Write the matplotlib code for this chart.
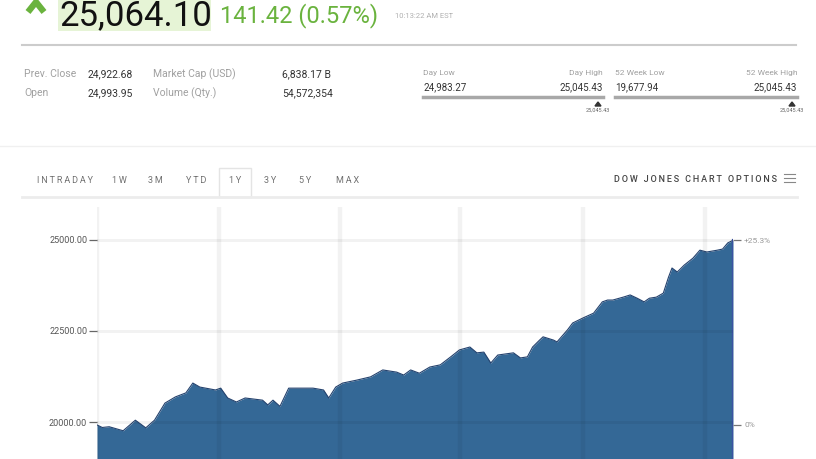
import matplotlib.pyplot as plt
import numpy as np

W, H = 816, 459

# quote header
last_price = "25,064.10"
change_text = "141.42 (0.57%)"
time_text = "10:13:22 AM EST"

stats_left = [("Prev. Close", "24,922.68"), ("Open", "24,993.95")]
stats_mid = [("Market Cap (USD)", "6,838.17 B"), ("Volume (Qty.)", "54,572,354")]
ranges = [("Day Low", "24,983.27", "Day High", "25,045.43", "25,045.43"),
          ("52 Week Low", "19,677.94", "52 Week High", "25,045.43", "25,045.43")]

tabs = ["INTRADAY", "1W", "3M", "YTD", "1Y", "3Y", "5Y", "MAX"]
active_tab = "1Y"

# one year of closes (day of period, index level)
days = [0, 3, 7, 15, 22, 28, 33, 39, 45, 51, 55, 59, 68, 71, 75, 80, 85, 95, 98,
        101, 105, 110, 124, 130, 133, 137, 141, 149, 157, 164, 172, 176, 180, 185,
        191, 197, 203, 208, 214, 218, 222, 226, 230, 239, 243, 247, 250, 254, 256,
        262, 264, 270, 273, 279, 285, 290, 293, 296, 302, 306, 310, 314, 317, 321,
        325, 328, 330, 333, 337, 342, 346, 350, 356, 359, 362, 365]
closes = [19920, 19850, 19870, 19760, 20050, 19840, 20050, 20520, 20690, 20800,
          21070, 20960, 20880, 20930, 20660, 20550, 20660, 20600, 20470, 20600,
          20430, 20930, 20930, 20880, 20660, 20960, 21070, 21150, 21240, 21430,
          21370, 21290, 21430, 21340, 21510, 21570, 21790, 21980, 22060, 21900,
          21920, 21620, 21840, 21900, 21760, 21790, 22060, 22250, 22340, 22250,
          22200, 22530, 22720, 22860, 22990, 23300, 23350, 23350, 23430, 23490,
          23400, 23300, 23400, 23430, 23540, 23980, 24230, 24120, 24310, 24500,
          24720, 24670, 24720, 24750, 24920, 24990]

y_ticks = [20000, 22500, 25000]
x_grid_days = [70, 139.5, 208.4, 279, 349]
pct_labels = ["0%", "+25.3%"]

GREEN = "#6ab33e"
BLUE = "#346896"
GRAY = "#a0a0a0"
DARK = "#333333"


def px(x, y):
    return x / W, 1 - y / H


def ftext(x, y, s, **kw):
    kw.setdefault("family", ["Roboto", "DejaVu Sans"])
    fig.text(*px(x, y), s, **kw)


def spaced(s):
    return "\u2009".join(s)


def hline(x0, x1, y, color, lw):
    fig.add_artist(plt.Line2D([x0 / W, x1 / W], [1 - y / H, 1 - y / H],
                              color=color, lw=lw, transform=fig.transFigure))


fig = plt.figure(figsize=(W / 100, H / 100), dpi=100)
fig.patch.set_facecolor("white")

# header: caret, price, change
fig.add_artist(plt.Line2D([28 / W, 36 / W, 44 / W], [1 - 12 / H, 1 - 2 / H, 1 - 12 / H],
                          color=GREEN, lw=4.5, transform=fig.transFigure,
                          solid_capstyle="butt"))
fig.add_artist(plt.Rectangle(px(58, 31), 153 / W, 33 / H, color="#e6f4d6",
                             transform=fig.transFigure, lw=0))
ftext(59, 25, last_price, fontsize=25, color="#111111", va="baseline")
ftext(220, 22, change_text, fontsize=17, color=GREEN, va="baseline")
ftext(395, 18, time_text, fontsize=5.5, color="#b0b0b0", va="baseline")
hline(22, 796, 45, "#cccccc", 1.5)

# stats block
for i, (lab, val) in enumerate(stats_left):
    y = 77 + i * 19
    ftext(24, y, lab, fontsize=7.5, color=GRAY, va="baseline")
    ftext(88, y, val, fontsize=7.5, color=DARK, va="baseline")
for i, (lab, val) in enumerate(stats_mid):
    y = 77 + i * 19
    ftext(153, y, lab, fontsize=7.5, color=GRAY, va="baseline")
    ftext(282, y, val, fontsize=7.5, color=DARK, va="baseline")

for (lo_lab, lo, hi_lab, hi, cur), (x0, x1) in zip(ranges, [(423, 603), (615, 797)]):
    ftext(x0, 75, lo_lab, fontsize=6, color=GRAY, va="baseline")
    ftext(x1, 75, hi_lab, fontsize=6, color=GRAY, va="baseline", ha="right")
    ftext(x0, 90, lo, fontsize=7, color=DARK, va="baseline")
    ftext(x1, 90, hi, fontsize=7, color=DARK, va="baseline", ha="right")
    hline(x0, x1, 97, "#a8a8a8", 2.5)
    fig.add_artist(plt.Polygon([px(x1 - 8, 106), px(x1 - 5, 102), px(x1 - 2, 106)],
                               closed=True, color="#333333", transform=fig.transFigure))
    ftext(x1 - 5, 112, cur, fontsize=4, color="#666666", va="baseline", ha="center")

hline(0, 816, 146, "#f0f0f0", 1)

# tabs
tab_x = [37, 112, 148, 186, 229, 264, 299, 336]
for name, x in zip(tabs, tab_x):
    ftext(x, 183, spaced(name), fontsize=6.5, color="#707070", va="baseline")
    if name == active_tab:
        fig.add_artist(plt.Rectangle(px(219, 197), 32 / W, 29 / H, fill=False,
                                     ec="#e4e4e4", lw=1, transform=fig.transFigure))
ftext(777, 182, spaced("DOW JONES CHART OPTIONS"), fontsize=6.5, color="#444444",
      va="baseline", ha="right", weight="medium")
for dy in (174, 178, 182):
    hline(784, 795, dy, "#888888", 0.8)
hline(22, 797, 197, "#ececec", 2)

# chart
ax = fig.add_axes([97 / W, 0, 636 / W, 252 / H])
ax.set_xlim(0, 365)
ax.set_ylim(18984, 25906)
ax.fill_between(days, closes, 18000, color=BLUE, lw=0, zorder=1)
ax.plot(days, closes, color="#24426e", lw=0.8, zorder=2)
ax.plot([days[-1], days[-1]], [18000, closes[-1]], color="#3c52a3", lw=1.6, zorder=3)

for y in y_ticks:
    ax.axhline(y, color="black", alpha=0.05, lw=2.2, zorder=4)
for x in [0] + x_grid_days:
    ax.axvline(x, color="black", alpha=0.05, lw=3.2, zorder=4)

for s in ax.spines.values():
    s.set_visible(False)
ax.set_xticks([])
ax.set_yticks(y_ticks)
ax.set_yticklabels([f"{v:.2f}" for v in y_ticks], family="Roboto", fontsize=6.5,
                   color="#555555")
ax.tick_params(axis="y", length=6, width=0.9, color="#666666", pad=1)

ax2 = ax.twinx()
ax2.set_ylim(ax.get_ylim())
ax2.set_yticks([closes[0], closes[-1]])
ax2.set_yticklabels(pct_labels, family="Roboto", fontsize=6, color="#999999")
ax2.tick_params(axis="y", length=6, width=0.9, color="#777777", pad=2)
for s in ax2.spines.values():
    s.set_visible(False)

fig.savefig("out.png", dpi=100, facecolor="white")
